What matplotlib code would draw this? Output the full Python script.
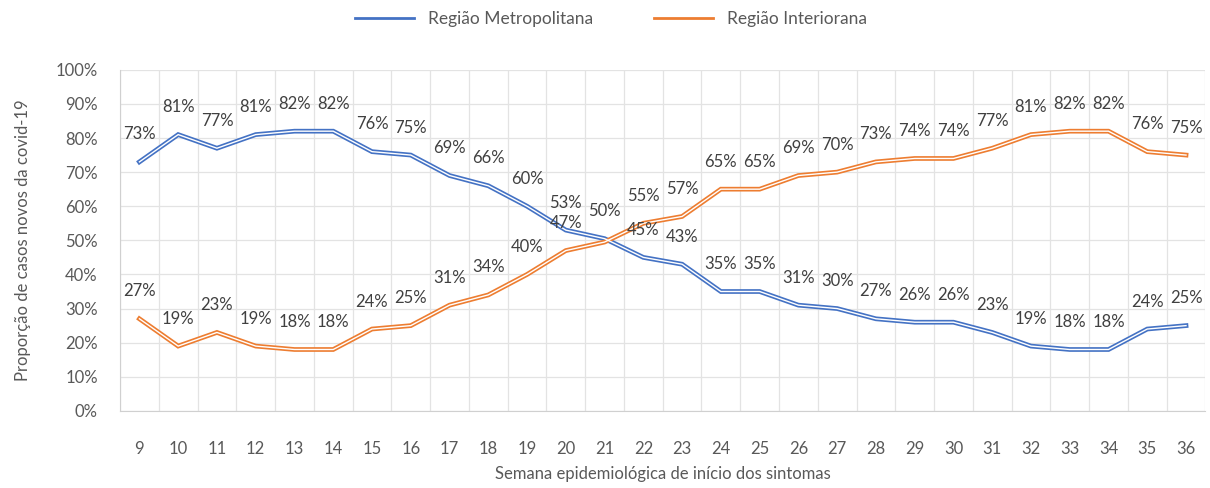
import matplotlib
matplotlib.use("Agg")
import matplotlib.pyplot as plt
from matplotlib.ticker import FixedLocator, PercentFormatter
from matplotlib.lines import Line2D

weeks = list(range(9, 37))
metro = [73, 81, 77, 81, 82, 82, 76, 75, 69, 66, 60, 53, 50.5, 45, 43, 35, 35, 31, 30, 27, 26, 26, 23, 19, 18, 18, 24, 25]
interior = [27, 19, 23, 19, 18, 18, 24, 25, 31, 34, 40, 47, 49.5, 55, 57, 65, 65, 69, 70, 73, 74, 74, 77, 81, 82, 82, 76, 75]
series_names = ["Região Metropolitana", "Região Interiorana"]
colors = ["#4472C4", "#ED7D31"]

plt.rcParams['font.family'] = ['Lato', 'DejaVu Sans']
txt = "#595959"

fig = plt.figure(figsize=(12.1, 4.88), dpi=100)
ax = fig.add_axes([0.0992, 0.158, 0.897, 0.699])

drawn = set()
for vals, name, c in zip([metro, interior], series_names, colors):
    ax.plot(weeks, vals, color=c, lw=3.4, solid_joinstyle='miter', label=name, zorder=3)
    ax.plot(weeks, vals, color="white", lw=1.0, solid_joinstyle='miter', zorder=4)
    for x, v in zip(weeks, vals):
        key = (x, round(v))
        if key in drawn:
            continue  # identical label at same spot (as in reference, labels coincide)
        drawn.add(key)
        ax.annotate(f"{round(v)}%", (x, v), xytext=(0, 14), textcoords="offset points",
                    ha="center", va="bottom", fontsize=12, color="#404040", zorder=5)

ax.set_xlim(8.5, 36.5)
ax.set_ylim(0, 100)
ax.set_yticks(range(0, 101, 10))
ax.yaxis.set_major_formatter(PercentFormatter(decimals=0))
ax.set_xticks(weeks)
ax.xaxis.set_minor_locator(FixedLocator([w + 0.5 for w in range(8, 37)]))
ax.grid(axis='y', which='major', color="#E3E3E3", lw=0.9)
ax.grid(axis='x', which='minor', color="#E3E3E3", lw=0.9)
ax.tick_params(which='both', length=0, labelsize=12, labelcolor=txt)
ax.tick_params(axis='x', pad=22)
ax.tick_params(axis='y', pad=16)
for s in ["top", "right"]:
    ax.spines[s].set_visible(False)
for s in ["left", "bottom"]:
    ax.spines[s].set_color("#D0D0D0")
ax.set_xlabel("Semana epidemiológica de início dos sintomas", fontsize=12, color=txt, labelpad=6)
ax.set_ylabel("Proporção de casos novos da covid-19", fontsize=12, color=txt, labelpad=18)

handles = [Line2D([], [], color=c, lw=2) for c in colors]
fig.legend(handles, series_names, loc="upper center", bbox_to_anchor=(0.505, 1.01), ncol=2,
           frameon=False, fontsize=12.5, labelcolor=txt, handlelength=3.4, columnspacing=3.5)

fig.savefig("out.png", dpi=100)
